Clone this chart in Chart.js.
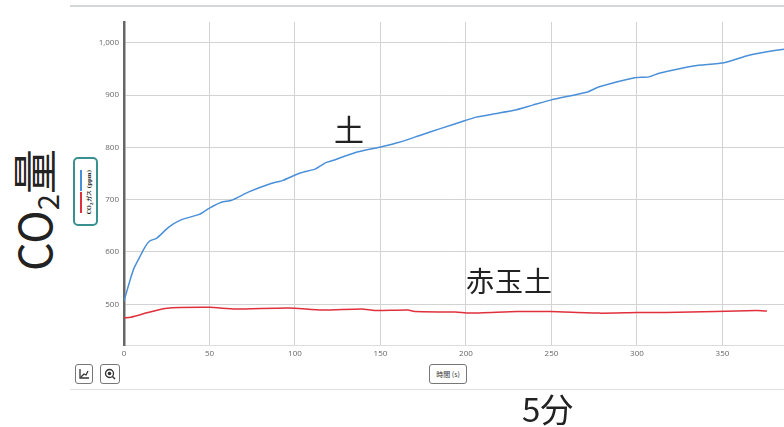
<!DOCTYPE html>
<html lang="ja">
<head>
<meta charset="utf-8">
<title>CO2量</title>
<script src="https://cdn.jsdelivr.net/npm/chart.js@4/dist/chart.umd.min.js"></script>
<style>
  html, body { margin: 0; padding: 0; background: #fff; overflow: hidden; }
  body { width: 784px; height: 427px; position: relative; font-family: "Noto Sans CJK JP", "Noto Sans", sans-serif; }
  .rule { position: absolute; left: 70px; right: 0; }
  #rule-top { top: 5px; height: 2px; background: #d4d7da; }
  #rule-bottom { top: 389px; height: 1px; background: #e2e2e2; }
  #chart-box { position: absolute; left: 70px; top: 6px; width: 714px; height: 384px; }
  .btn {
    position: absolute; top: 364px; height: 20px; box-sizing: border-box;
    border: 1px solid #777; border-radius: 3px; background: #fff;
    display: flex; align-items: center; justify-content: center;
  }
  #btn-axis { left: 75px; width: 18px; }
  #btn-zoom { left: 100px; width: 20px; }
  #btn-time { left: 429px; width: 38px; font-size: 7px; color: #333; font-family: "Noto Sans CJK JP", sans-serif; }
  #legend-box {
    position: absolute; left: 73px; top: 157px; width: 25px; height: 69px; box-sizing: border-box;
    border: 2px solid #3a8f8f; border-radius: 5px; background: #fff;
  }
  #legend-box .sw { position: absolute; left: 5px; width: 1.5px; }
  #legend-box .blue { top: 11px; height: 21px; background: #4a90d9; }
  #legend-box .red { top: 33px; height: 21px; background: #e0303c; }
  #legend-box .txt {
    position: absolute; left: 12px; top: 33px; white-space: nowrap;
    transform: translate(-50%, -50%) rotate(-90deg); transform-origin: center;
    font-size: 5.5px; font-weight: bold; color: #222; font-family: "DejaVu Serif", serif;
    margin-left: 3px;
  }
  .note { position: absolute; color: #222; font-family: "Noto Sans CJK JP", sans-serif; white-space: nowrap; line-height: 1; }
  #note-co2 { left: 35px; top: 210px; font-size: 45px; transform: translate(-50%, -50%) rotate(-90deg); }
  #note-tsuchi { left: 334px; top: 113px; font-size: 30px; }
  #note-akadama { left: 466px; top: 266px; font-size: 28px; letter-spacing: 1px; }
  #note-5min { left: 522px; top: 392px; font-size: 33px; }
</style>
</head>
<body>
<div class="rule" id="rule-top"></div>
<div id="chart-box"><canvas id="co2Chart"></canvas></div>
<div class="rule" id="rule-bottom"></div>

<div id="legend-box">
  <div class="sw blue"></div>
  <div class="sw red"></div>
  <div class="txt">CO<sub style="font-size:4px">2</sub>ガス (ppm)</div>
</div>

<div class="btn" id="btn-axis">
  <svg width="12" height="12" viewBox="0 0 12 12"><path d="M2 1 V10 H11" stroke="#333" stroke-width="1.3" fill="none"/><path d="M3 9 L6 6 L8 7 L10 3" stroke="#333" stroke-width="1.3" fill="none"/></svg>
</div>
<div class="btn" id="btn-zoom">
  <svg width="12" height="12" viewBox="0 0 12 12"><circle cx="5.5" cy="5.5" r="4" stroke="#333" stroke-width="1.3" fill="none"/><circle cx="5.5" cy="5.5" r="1.8" fill="#333"/><path d="M8.5 8.5 L11 11" stroke="#333" stroke-width="1.5"/></svg>
</div>
<div class="btn" id="btn-time">時間 (s)</div>

<div class="note" id="note-co2">CO<span style="font-size:29px;vertical-align:-7px">2</span>量</div>
<div class="note" id="note-tsuchi">土</div>
<div class="note" id="note-akadama">赤玉土</div>
<div class="note" id="note-5min">5分</div>

<script>
// 土 (blue) : time (s) / CO2 (ppm)
const tsuchiTime = [0, 4, 6, 9, 12, 15, 19, 26, 33, 44, 50, 57, 63, 73, 86, 93, 103, 112, 118, 122, 135, 150, 161, 173, 185, 200, 206, 218, 228, 239, 250, 271, 278, 298, 307, 313, 333, 351, 364, 376, 386, 392];
const tsuchiCo2 = [506, 551, 570, 589, 608, 621, 626, 647, 661, 672, 684, 695, 699, 715, 731, 737, 751, 759, 771, 775, 790, 801, 810, 823, 836, 852, 858, 865, 871, 881, 891, 906, 916, 933, 935, 942, 956, 962, 975, 983, 988, 990];

// 赤玉土 (red)
const akadamaTime = [0, 4, 14, 24, 50, 65, 96, 116, 139, 147, 166, 170, 194, 202, 230, 249, 278, 300, 317, 346, 370, 376];
const akadamaCo2 = [474, 475, 484, 492, 494, 491, 493, 489, 491, 488, 489, 486, 485, 483, 486, 486, 483, 484, 484, 486, 488, 487];

const xTicks = [0, 50, 100, 150, 200, 250, 300, 350];
const yTicks = [500, 600, 700, 800, 900, 1000];

const toPoints = (xs, ys) => xs.map((x, i) => ({ x: x, y: ys[i] }));

const tickFont = { family: "'Open Sans', sans-serif", size: 8 };

new Chart(document.getElementById('co2Chart'), {
  type: 'line',
  data: {
    datasets: [
      { label: '土', data: toPoints(tsuchiTime, tsuchiCo2), borderColor: '#4a90d9', borderWidth: 1.5, pointRadius: 0, tension: 0.2 },
      { label: '赤玉土', data: toPoints(akadamaTime, akadamaCo2), borderColor: '#e0303c', borderWidth: 1.5, pointRadius: 0, tension: 0.2 }
    ]
  },
  options: {
    responsive: true,
    maintainAspectRatio: false,
    animation: false,
    layout: { padding: { top: 16, right: 0, left: 0, bottom: 0 } },
    plugins: { legend: { display: false }, tooltip: { enabled: false } },
    scales: {
      x: {
        type: 'linear', min: 0, max: 386,
        afterBuildTicks: s => { s.ticks = xTicks.map(v => ({ value: v })); },
        afterFit: s => { s.height = 45; },
        grid: { color: '#d3d3d3', lineWidth: 1, drawTicks: false },
        border: { color: '#dcdcdc', width: 1 },
        ticks: { color: '#666', font: tickFont, padding: 4, maxRotation: 0 }
      },
      y: {
        min: 422, max: 1040,
        afterBuildTicks: s => { s.ticks = yTicks.map(v => ({ value: v })); },
        afterFit: s => { s.width = 54; },
        grid: { color: '#d3d3d3', lineWidth: 1, drawTicks: false },
        border: { color: '#666', width: 2.5 },
        ticks: { color: '#666', font: tickFont, padding: 5 }
      }
    }
  }
});
</script>
</body>
</html>
